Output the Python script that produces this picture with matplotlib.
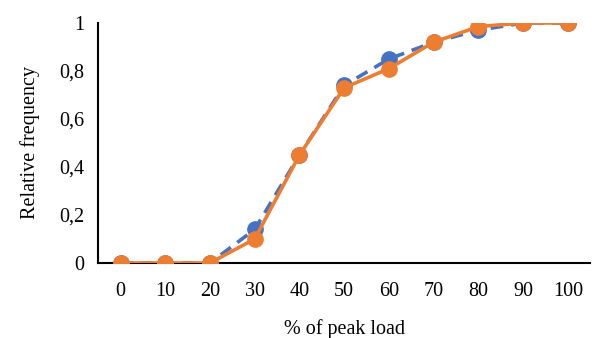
import matplotlib
matplotlib.use("Agg")
import matplotlib.pyplot as plt

# peak load percentages and the two cumulative curves
load = [0, 10, 20, 30, 40, 50, 60, 70, 80, 90, 100]
series_a = [0, 0, 0, 0.14, 0.45, 0.74, 0.85, 0.92, 0.97, 1.0, 1.0]
series_b = [0, 0, 0, 0.10, 0.45, 0.73, 0.81, 0.92, 0.985, 1.0, 1.0]
yticks = [0, 0.2, 0.4, 0.6, 0.8, 1.0]
ytick_labels = ["0", "0,2", "0,4", "0,6", "0,8", "1"]

plt.rcParams["font.family"] = ["Liberation Serif", "DejaVu Serif"]

fig = plt.figure(figsize=(5.95, 3.38), dpi=100)
ax = fig.add_axes([0.165, 0.222, 0.827, 0.71])

pos = list(range(len(load)))
ax.plot(pos, series_a, color="#4472C4", lw=2.6, ls=(0, (3.5, 2.2)),
        marker="o", ms=11, zorder=2)
ax.plot(pos, series_b, color="#ED7D31", lw=2.6,
        marker="o", ms=11, zorder=3)

ax.set_xlim(-0.5, len(load) - 0.5)
ax.set_ylim(0, 1)
ax.set_xticks(pos)
ax.set_xticklabels([str(v) for v in load], fontsize=14.5)
ax.set_yticks(yticks)
ax.set_yticklabels(ytick_labels, fontsize=14.5)
ax.tick_params(axis="x", length=0, pad=14)
ax.tick_params(axis="y", length=0, pad=10)

for side in ["top", "right"]:
    ax.spines[side].set_visible(False)
for side in ["left", "bottom"]:
    ax.spines[side].set_linewidth(1.5)
    ax.spines[side].set_color("black")
    ax.spines[side].set_zorder(1)

ax.set_xlabel("% of peak load", fontsize=14.5, labelpad=13)
ax.set_ylabel("Relative frequency", fontsize=14.5, labelpad=14)

fig.savefig("out.png", dpi=100)
